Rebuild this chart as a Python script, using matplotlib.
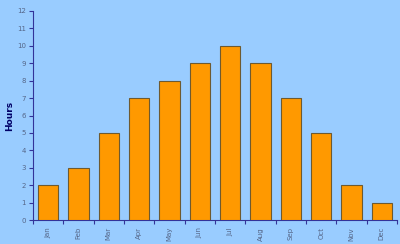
import matplotlib
matplotlib.use("Agg")
import matplotlib.pyplot as plt
import numpy as np

months = ["Jan", "Feb", "Mar", "Apr", "May", "Jun", "Jul", "Aug", "Sep", "Oct", "Nov", "Dec"]
hours = [2, 3, 5, 7, 8, 9, 10, 9, 7, 5, 2, 1]
yticks = list(range(0, 13))

bg = "#99CCFF"
fig = plt.figure(figsize=(4, 2.44), dpi=100, facecolor=bg)
ax = fig.add_axes([0.0825, 0.098, 0.91, 0.857], facecolor=bg)

x = np.arange(len(months))
ax.bar(x, hours, width=0.66, color="#FF9900", edgecolor="#6E5A30", linewidth=0.8, zorder=3)

ax.set_xlim(-0.5, len(months) - 0.5)
ax.set_ylim(0, 12)
ax.set_yticks(yticks)
ax.set_yticklabels([str(v) for v in yticks], fontsize=5, color="#556688")
ax.set_xticks(x)
ax.set_xticklabels(months, rotation=90, fontsize=5, color="#556688")
ax.set_xticks(np.arange(-0.5, len(months)), minor=True)
ax.tick_params(axis="x", which="major", length=0, pad=5)
ax.tick_params(axis="x", which="minor", length=3, color="#333399", width=0.8)
ax.tick_params(axis="y", length=3, color="#333399", width=0.8, pad=2)

for s in ["top", "right"]:
    ax.spines[s].set_visible(False)
for s in ["left", "bottom"]:
    ax.spines[s].set_color("#333399")
    ax.spines[s].set_linewidth(0.8)

ax.set_ylabel("Hours", fontsize=6.5, fontweight="bold", color="#000066")
ax.yaxis.set_label_coords(-0.052, 0.5)

fig.savefig("out.png", dpi=100, facecolor=bg)
